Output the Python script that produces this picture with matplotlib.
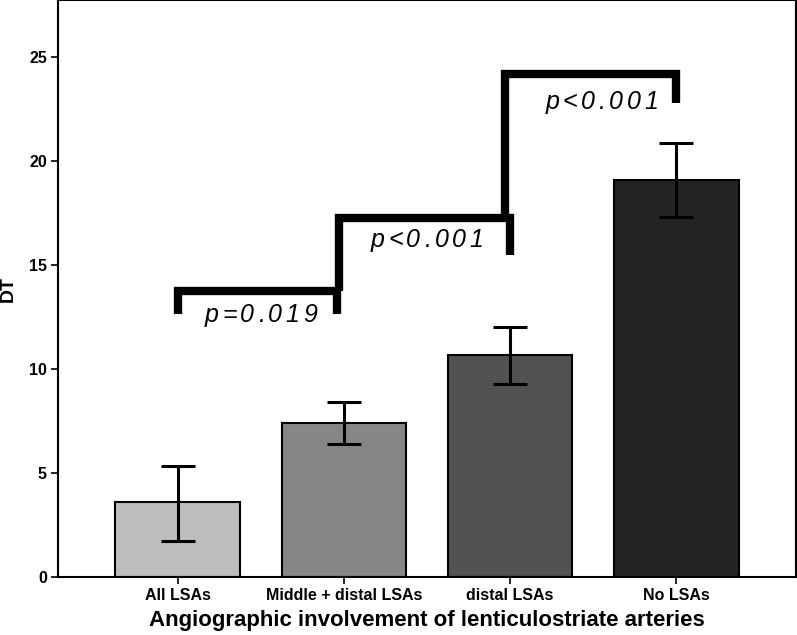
import numpy as np
import matplotlib.pyplot as plt
from matplotlib.font_manager import FontProperties

# data
categories = ['All LSAs', 'Middle + distal LSAs', 'distal LSAs', 'No LSAs']
means = [3.6, 7.4, 10.7, 19.1]
err_low = [1.75, 6.4, 9.3, 17.3]
err_high = [5.35, 8.4, 12.0, 20.85]
bar_colors = ['#bdbdbd', '#868686', '#525252', '#232323']

# significance brackets between neighbouring groups
p_labels = ['p=0.019', 'p<0.001', 'p<0.001']
br_top = [13.75, 17.25, 24.2]
br_left_end = [12.65, 13.75, 17.25]
br_right_end = [12.65, 15.5, 22.8]

plt.rcParams['font.family'] = ['Liberation Sans', 'DejaVu Sans']

fig = plt.figure(figsize=(7.97, 6.35), dpi=100)
ax = fig.add_axes([58 / 797, 58 / 635, 738 / 797, 577 / 635])

x = np.arange(len(categories))
means = np.array(means)
yerr = np.array([means - np.array(err_low), np.array(err_high) - means])

ax.bar(x, means, width=0.75, color=bar_colors, edgecolor='black', linewidth=1.5, zorder=2)
ax.errorbar(x, means, yerr=yerr, fmt='none', ecolor='black', elinewidth=2.2,
            capsize=12, capthick=2.2, zorder=3)

for i in range(3):
    x0 = x[i] if i == 0 else x[i] - 0.03
    x1 = x[i + 1] - 0.04 if i == 0 else x[i + 1]
    ax.plot([x0, x0, x1, x1], [br_left_end[i], br_top[i], br_top[i], br_right_end[i]],
            color='black', linewidth=6, solid_capstyle='butt', solid_joinstyle='miter',
            zorder=4)

# p labels drawn letter by letter to get the wide tracking of the original
renderer = fig.canvas.get_renderer()
pprop = FontProperties(family=['Liberation Sans'], style='italic', size=18)


def spaced_text(cx, cy, s, track=3.6):
    widths = [renderer.get_text_width_height_descent(ch, pprop, ismath=False)[0]
              for ch in s]
    widths = np.array(widths) * 72 / fig.dpi
    trk = track * 72 / fig.dpi
    total = widths.sum() + trk * (len(s) - 1)
    pos = -total / 2
    for ch, w in zip(s, widths):
        ax.annotate(ch, xy=(cx, cy), xytext=(pos, 0), textcoords='offset points',
                    ha='left', va='center', fontproperties=pprop, color='black')
        pos += w + trk


text_pos = [(0.5, 12.6), (1.5, 16.2), (2.55, 22.85)]
for (tx, ty), lab in zip(text_pos, p_labels):
    spaced_text(tx, ty, lab)

ax.set_xlim(-0.72, 3.72)
ax.set_ylim(0, 27.75)
ax.set_yticks([0, 5, 10, 15, 20, 25])
ax.set_xticks(x)
ax.set_xticklabels(categories, fontweight='bold', fontsize=11.5)
for lab in ax.get_yticklabels():
    lab.set_fontweight('bold')
    lab.set_fontsize(11.5)
ax.tick_params(axis='both', direction='out', length=5, width=1.2, pad=3)

ax.set_ylabel('DT', fontweight='bold', fontsize=14)
ax.yaxis.set_label_coords(-0.056, 0.5)
ax.set_xlabel('Angiographic involvement of lenticulostriate arteries',
              fontweight='bold', fontsize=16, labelpad=5)

for s in ax.spines.values():
    s.set_linewidth(1.5)

fig.savefig('out.png', dpi=100)
